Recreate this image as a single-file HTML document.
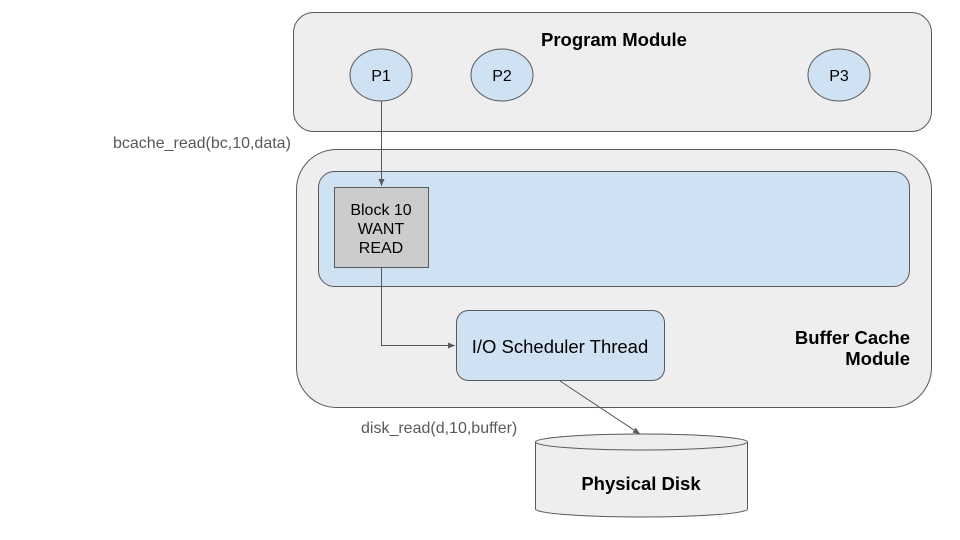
<!DOCTYPE html>
<html><head><style>body{margin:0;background:#fff}svg{display:block}</style></head><body>
<svg width="960" height="540" viewBox="0 0 960 540" xmlns="http://www.w3.org/2000/svg" font-family="Liberation Sans, Arial, sans-serif">
<defs><marker id="a" markerWidth="8" markerHeight="8" refX="7" refY="4" orient="auto" markerUnits="userSpaceOnUse"><path d="M0,1 L7,4 L0,7 z" fill="#595959"/></marker></defs>
<rect x="293.5" y="12.5" width="638" height="119" rx="20" fill="#eeeeee" stroke="#595959"/>
<text x="614" y="46" font-size="18.5" font-weight="bold" text-anchor="middle" fill="#000">Program Module</text>
<ellipse cx="381" cy="75" rx="31" ry="26" fill="#cfe2f3" stroke="#595959"/>
<text x="381" y="81" font-size="16" text-anchor="middle">P1</text>
<ellipse cx="502" cy="75" rx="31" ry="26" fill="#cfe2f3" stroke="#595959"/>
<text x="502" y="81" font-size="16" text-anchor="middle">P2</text>
<ellipse cx="839" cy="75" rx="31" ry="26" fill="#cfe2f3" stroke="#595959"/>
<text x="839" y="81" font-size="16" text-anchor="middle">P3</text>
<rect x="296.5" y="149.5" width="635" height="258" rx="40" fill="#eeeeee" stroke="#595959"/>
<rect x="318.5" y="171.5" width="591" height="115" rx="16" fill="#cfe2f3" stroke="#595959"/>
<rect x="334.5" y="187.5" width="94" height="80" fill="#cccccc" stroke="#595959"/>
<text font-size="16" text-anchor="middle" fill="#000"><tspan x="381" y="215">Block 10</tspan><tspan x="381" y="234">WANT</tspan><tspan x="381" y="253">READ</tspan></text>
<rect x="456.5" y="310.5" width="208" height="70" rx="12" fill="#cfe2f3" stroke="#595959"/>
<text x="560" y="353" font-size="18.5" text-anchor="middle">I/O Scheduler Thread</text>
<text font-size="18.5" font-weight="bold" text-anchor="end"><tspan x="910" y="344">Buffer Cache</tspan><tspan x="910" y="365">Module</tspan></text>
<text x="113" y="148" font-size="16" fill="#595959">bcache_read(bc,10,data)</text>
<text x="361" y="433" font-size="16" fill="#595959">disk_read(d,10,buffer)</text>
<path d="M535.5,442 L535.5,509 A106,8 0 0 0 747.5,509 L747.5,442" fill="#eeeeee" stroke="#595959"/>
<ellipse cx="641.5" cy="442" rx="106" ry="8" fill="#eeeeee" stroke="#595959"/>
<text x="641" y="490" font-size="18.5" font-weight="bold" text-anchor="middle">Physical Disk</text>
<line x1="381.5" y1="101" x2="381.5" y2="186" stroke="#595959" marker-end="url(#a)"/>
<polyline points="381.5,267 381.5,345.5 455,345.5" fill="none" stroke="#595959" marker-end="url(#a)"/>
<line x1="560" y1="381" x2="640" y2="434" stroke="#595959" marker-end="url(#a)"/>
</svg>
</body></html>
